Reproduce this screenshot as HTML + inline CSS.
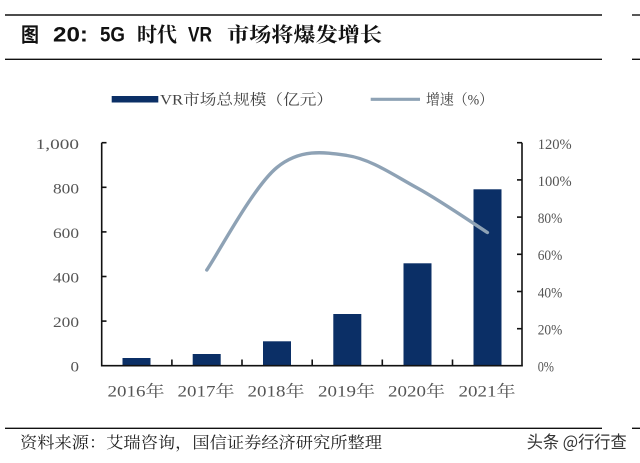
<!DOCTYPE html>
<html>
<head>
<meta charset="utf-8">
<style>
  html, body { margin: 0; padding: 0; background: #ffffff; }
  body { width: 640px; height: 463px; overflow: hidden; }
  svg { display: block; }
  .serif { font-family: "Liberation Serif", "Noto Serif CJK SC", serif; }
  .sans { font-family: "Liberation Sans", "Noto Sans CJK SC", sans-serif; }
</style>
</head>
<body>
<svg width="640" height="463" viewBox="0 0 640 463" xmlns="http://www.w3.org/2000/svg">
  <rect x="0" y="0" width="640" height="463" fill="#ffffff"/>

  <!-- top rules -->
  <line x1="5" y1="15" x2="602" y2="15" stroke="#111" stroke-width="1.4"/>
  <line x1="632" y1="15" x2="640" y2="15" stroke="#111" stroke-width="1.4"/>
  <line x1="5" y1="59.3" x2="602" y2="59.3" stroke="#111" stroke-width="1.4"/>
  <line x1="632" y1="59.3" x2="640" y2="59.3" stroke="#111" stroke-width="1.4"/>

  <!-- title -->
  <g fill="#111" font-size="20">
    <text x="21" y="41.5" font-family="Noto Sans CJK SC, sans-serif" font-weight="700" textLength="18" lengthAdjust="spacingAndGlyphs">图</text>
    <text x="53" y="41.5" font-family="Liberation Sans, sans-serif" font-weight="700" font-size="21" textLength="35" lengthAdjust="spacingAndGlyphs">20:</text>
    <text x="100" y="41.5" font-family="Liberation Sans, sans-serif" font-weight="700" font-size="21" textLength="25" lengthAdjust="spacingAndGlyphs">5G</text>
    <text x="137" y="41.5" font-family="Noto Serif CJK SC, serif" font-weight="700" textLength="40" lengthAdjust="spacingAndGlyphs">时代</text>
    <text x="188" y="41.5" font-family="Liberation Sans, sans-serif" font-weight="700" font-size="21" textLength="24" lengthAdjust="spacingAndGlyphs">VR</text>
    <text x="227" y="41.5" font-family="Noto Serif CJK SC, serif" font-weight="700" textLength="155" lengthAdjust="spacingAndGlyphs">市场将爆发增长</text>
  </g>

  <!-- legend -->
  <rect x="111.7" y="96" width="46.6" height="6.5" fill="#0b2f66"/>
  <text x="160" y="104.5" class="serif" font-size="15" fill="#444" textLength="173" lengthAdjust="spacingAndGlyphs">VR市场总规模（亿元）</text>
  <line x1="370.7" y1="99.3" x2="420" y2="99.3" stroke="#8ea2b5" stroke-width="3.2"/>
  <text x="426" y="104.5" class="serif" font-size="15" fill="#444" textLength="67" lengthAdjust="spacingAndGlyphs">增速（%）</text>

  <!-- bars -->
  <g fill="#0b2f66">
    <rect x="122.5" y="358" width="28" height="7.7"/>
    <rect x="192.7" y="354" width="28" height="11.7"/>
    <rect x="263" y="341.3" width="28" height="24.4"/>
    <rect x="333.3" y="314" width="28" height="51.7"/>
    <rect x="403.5" y="263.3" width="28" height="102.4"/>
    <rect x="473.5" y="189.3" width="28" height="176.4"/>
  </g>

  <!-- growth line -->
  <path d="M206.8,270 C218.5,252.9 253.5,186.6 276.9,167.5 C300.3,148.4 323.7,152.1 347.1,155.5 C370.5,158.9 393.9,175.2 417.3,188 C440.7,200.8 475.7,225.1 487.4,232.5"
        fill="none" stroke="#8ea2b5" stroke-width="3.4" stroke-linecap="round" stroke-linejoin="round"/>

  <!-- axes -->
  <g stroke="#111" stroke-width="1.6" fill="none">
    <line x1="101.7" y1="142.7" x2="101.7" y2="366.5"/>
    <line x1="522" y1="142.7" x2="522" y2="366.5"/>
    <line x1="101" y1="365.7" x2="522.7" y2="365.7"/>
    <!-- left ticks -->
    <line x1="101.7" y1="142.7" x2="106.5" y2="142.7"/>
    <line x1="101.7" y1="187.3" x2="106.5" y2="187.3"/>
    <line x1="101.7" y1="231.9" x2="106.5" y2="231.9"/>
    <line x1="101.7" y1="276.5" x2="106.5" y2="276.5"/>
    <line x1="101.7" y1="321.1" x2="106.5" y2="321.1"/>
    <!-- right ticks -->
    <line x1="517" y1="142.7" x2="522" y2="142.7"/>
    <line x1="517" y1="179.9" x2="522" y2="179.9"/>
    <line x1="517" y1="217.1" x2="522" y2="217.1"/>
    <line x1="517" y1="254.3" x2="522" y2="254.3"/>
    <line x1="517" y1="291.5" x2="522" y2="291.5"/>
    <line x1="517" y1="328.7" x2="522" y2="328.7"/>
    <!-- category ticks -->
    <line x1="171.9" y1="359.5" x2="171.9" y2="365.7"/>
    <line x1="242" y1="359.5" x2="242" y2="365.7"/>
    <line x1="312.2" y1="359.5" x2="312.2" y2="365.7"/>
    <line x1="382.3" y1="359.5" x2="382.3" y2="365.7"/>
    <line x1="452.5" y1="359.5" x2="452.5" y2="365.7"/>
  </g>

  <!-- left tick labels -->
  <g class="serif" font-size="15" fill="#555">
    <text x="35.7" y="149" textLength="43.3" lengthAdjust="spacingAndGlyphs">1,000</text>
    <text x="53" y="193.5" textLength="26" lengthAdjust="spacingAndGlyphs">800</text>
    <text x="53" y="238" textLength="26" lengthAdjust="spacingAndGlyphs">600</text>
    <text x="53" y="282.5" textLength="26" lengthAdjust="spacingAndGlyphs">400</text>
    <text x="53" y="327" textLength="26" lengthAdjust="spacingAndGlyphs">200</text>
    <text x="70.5" y="371.5" textLength="8.5" lengthAdjust="spacingAndGlyphs">0</text>
  </g>

  <!-- right tick labels -->
  <g class="serif" font-size="15" fill="#555">
    <text x="537.7" y="149" textLength="34" lengthAdjust="spacingAndGlyphs">120%</text>
    <text x="537.7" y="186" textLength="34" lengthAdjust="spacingAndGlyphs">100%</text>
    <text x="537.7" y="223" textLength="24.6" lengthAdjust="spacingAndGlyphs">80%</text>
    <text x="537.7" y="260" textLength="24.6" lengthAdjust="spacingAndGlyphs">60%</text>
    <text x="537.7" y="297.5" textLength="24.6" lengthAdjust="spacingAndGlyphs">40%</text>
    <text x="537.7" y="334.5" textLength="24.6" lengthAdjust="spacingAndGlyphs">20%</text>
    <text x="537.7" y="371.5" textLength="16.3" lengthAdjust="spacingAndGlyphs">0%</text>
  </g>

  <!-- x labels -->
  <g class="serif" font-size="16" fill="#555">
    <text x="107.5" y="396.5" textLength="57" lengthAdjust="spacingAndGlyphs">2016年</text>
    <text x="177.5" y="396.5" textLength="57" lengthAdjust="spacingAndGlyphs">2017年</text>
    <text x="247.5" y="396.5" textLength="57" lengthAdjust="spacingAndGlyphs">2018年</text>
    <text x="318" y="396.5" textLength="57" lengthAdjust="spacingAndGlyphs">2019年</text>
    <text x="388" y="396.5" textLength="57" lengthAdjust="spacingAndGlyphs">2020年</text>
    <text x="458.5" y="396.5" textLength="57" lengthAdjust="spacingAndGlyphs">2021年</text>
  </g>

  <!-- footer rule -->
  <line x1="5" y1="428.3" x2="602" y2="428.3" stroke="#111" stroke-width="1.4"/>
  <line x1="632" y1="428.3" x2="640" y2="428.3" stroke="#111" stroke-width="1.4"/>

  <!-- footer -->
  <text x="20" y="448" font-family="Noto Serif CJK SC, serif" font-size="16" fill="#222" textLength="362" lengthAdjust="spacingAndGlyphs">资料来源：艾瑞咨询，国信证券经济研究所整理</text>
  <text x="526.7" y="448" font-family="Noto Sans CJK SC, sans-serif" font-size="17" fill="#333" textLength="100" lengthAdjust="spacingAndGlyphs">头条 @行行查</text>
</svg>
</body>
</html>
